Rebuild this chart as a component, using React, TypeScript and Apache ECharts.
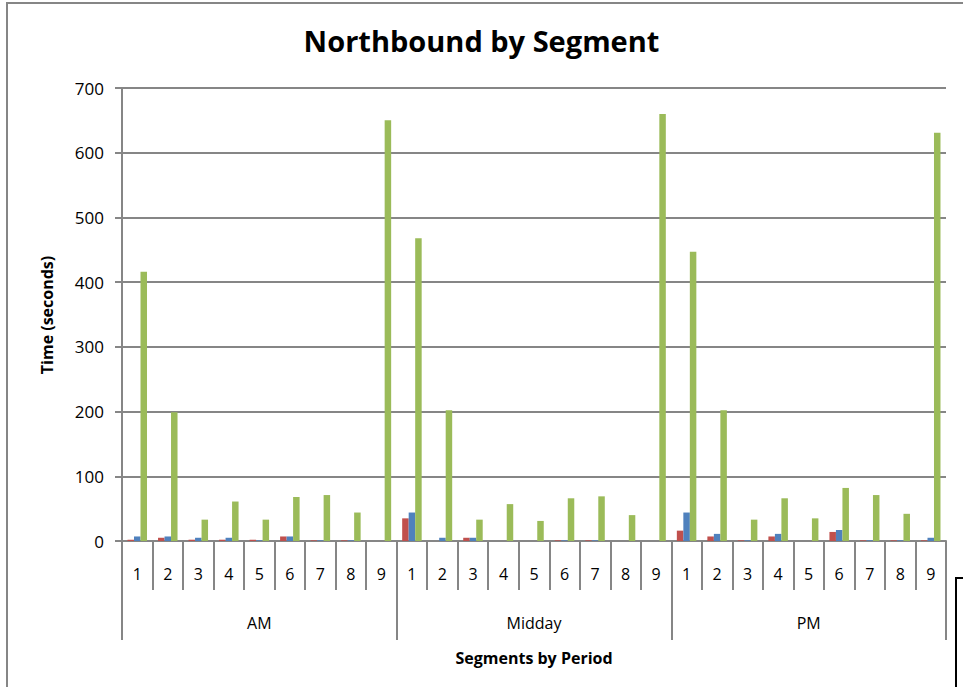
import React, { useEffect, useRef } from "react";
import * as echarts from "echarts";

const periods = ["AM", "Midday", "PM"];
const segments = ["1", "2", "3", "4", "5", "6", "7", "8", "9"];
const yTicks = [0, 100, 200, 300, 400, 500, 600, 700];

// values per period, segments 1..9
const redAM = [2, 5, 2, 2, 2, 7, 1, 1, 0];
const redMidday = [35, 0, 5, 0, 0, 1, 1, 0, 0];
const redPM = [16, 7, 1, 7, 0, 14, 1, 1, 1];

const blueAM = [7, 7, 5, 5, 1, 7, 1, 1, 0];
const blueMidday = [44, 5, 5, 0, 0, 1, 1, 0, 0];
const bluePM = [44, 11, 1, 11, 0, 17, 1, 1, 5];

const greenAM = [416, 199, 33, 61, 33, 68, 71, 44, 650];
const greenMidday = [468, 202, 33, 57, 31, 66, 69, 40, 660];
const greenPM = [447, 202, 33, 66, 35, 82, 71, 42, 631];

const GRAY = "#868686";
const FONT = "'Open Sans', 'Noto Sans', sans-serif";

export default function App() {
  const ref = useRef<HTMLDivElement>(null);
  useEffect(() => {
    if (!ref.current) return;
    const chart = echarts.init(ref.current, null, { renderer: "svg" });
    const categories: string[] = [];
    periods.forEach((p) => segments.forEach((s) => categories.push(p + "|" + s)));
    const red = [...redAM, ...redMidday, ...redPM];
    const blue = [...blueAM, ...blueMidday, ...bluePM];
    const green = [...greenAM, ...greenMidday, ...greenPM];

    chart.setOption({
      animation: false,
      backgroundColor: "#ffffff",
      textStyle: { fontFamily: FONT },
      title: {
        text: "Northbound by Segment",
        left: "center",
        top: 21,
        textStyle: { fontFamily: FONT, fontSize: 29, fontWeight: "bold", color: "#000" },
      },
      grid: { left: 122, right: 17, top: 88, bottom: 146, containLabel: false },
      xAxis: [
        {
          type: "category",
          data: categories,
          position: "bottom",
          axisLine: { show: true, lineStyle: { color: GRAY, width: 2 } },
          axisTick: { show: true, interval: 0, length: 49, lineStyle: { color: GRAY, width: 2 } },
          axisLabel: {
            interval: 0,
            margin: 25,
            fontSize: 16,
            color: "#000",
            fontFamily: FONT,
            formatter: (v: string) => v.split("|")[1],
          },
          splitLine: { show: false },
        },
        {
          type: "category",
          data: periods,
          position: "bottom",
          offset: 0,
          axisLine: { show: false },
          axisTick: { show: true, interval: 0, length: 99, lineStyle: { color: GRAY, width: 2 } },
          axisLabel: { interval: 0, margin: 74, fontSize: 16, color: "#000", fontFamily: FONT },
          splitLine: { show: false },
        },
      ],
      yAxis: {
        type: "value",
        min: yTicks[0],
        max: yTicks[yTicks.length - 1],
        interval: 100,
        axisLine: { show: true, lineStyle: { color: GRAY, width: 2 } },
        axisTick: { show: true, length: 7, lineStyle: { color: GRAY, width: 2 } },
        axisLabel: { margin: 18, fontSize: 17, color: "#000", fontFamily: FONT },
        splitLine: { show: true, lineStyle: { color: GRAY, width: 2 } },
      },
      series: [
        {
          name: "Series1",
          type: "bar",
          xAxisIndex: 0,
          data: red,
          barWidth: 6.5,
          barGap: "0%",
          itemStyle: { color: "#C0504D" },
        },
        {
          name: "Series2",
          type: "bar",
          xAxisIndex: 0,
          data: blue,
          barWidth: 6.5,
          barGap: "0%",
          itemStyle: { color: "#4F81BD" },
        },
        {
          name: "Series3",
          type: "bar",
          xAxisIndex: 0,
          data: green,
          barWidth: 6.5,
          barGap: "0%",
          itemStyle: { color: "#9BBB59" },
        },
      ],
      graphic: [
        {
          type: "rect",
          shape: { x: 7, y: 3, width: 1100, height: 900 },
          style: { fill: "none", stroke: GRAY, lineWidth: 2 },
          silent: true,
          z: -1,
        },
        {
          type: "rect",
          shape: { x: 956, y: 578, width: 100, height: 200 },
          style: { fill: "#fff", stroke: "#000", lineWidth: 2 },
          silent: true,
        },
        {
          type: "text",
          x: 534,
          y: 658,
          style: {
            text: "Segments by Period",
            fontFamily: FONT,
            fontSize: 16,
            fontWeight: "bold",
            fill: "#000",
            align: "center",
            verticalAlign: "middle",
          },
        },
        {
          type: "text",
          x: 47,
          y: 315,
          rotation: Math.PI / 2,
          style: {
            text: "Time (seconds)",
            fontFamily: FONT,
            fontSize: 16,
            fontWeight: "bold",
            fill: "#000",
            align: "center",
            verticalAlign: "middle",
          },
        },
      ],
    });
    return () => chart.dispose();
  }, []);
  return (
    <div
      ref={ref}
      style={{ position: "fixed", left: 0, top: 0, width: 963, height: 687 }}
    />
  );
}
